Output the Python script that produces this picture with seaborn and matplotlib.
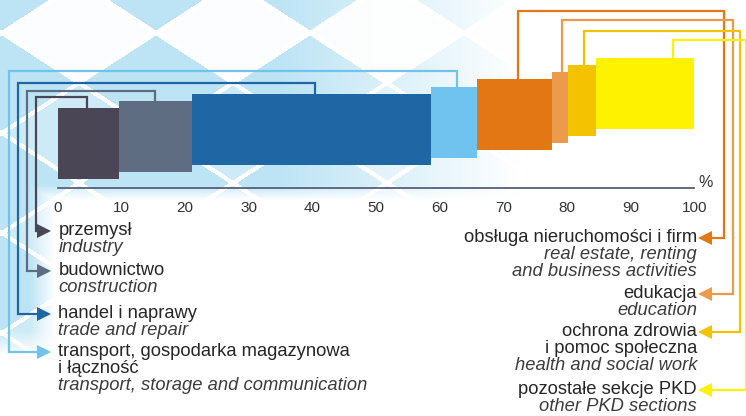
import numpy as np
import matplotlib
matplotlib.use("Agg")
import matplotlib.pyplot as plt
import seaborn as sns

# data (share of sectors, %)
sectors_pl = ["przemysł", "budownictwo", "handel i naprawy",
              "transport, gospodarka magazynowa\ni łączność",
              "obsługa nieruchomości i firm", "edukacja",
              "ochrona zdrowia\ni pomoc społeczna", "pozostałe sekcje PKD"]
sectors_en = ["industry", "construction", "trade and repair",
              "transport, storage and communication",
              "real estate, renting\nand business activities", "education",
              "health and social work", "other PKD sections"]
shares = [9.6, 11.5, 37.5, 7.2, 11.8, 2.6, 4.3, 15.5]
colors = ["#4a4656", "#5f6d83", "#1f66a5", "#6fc3ee",
          "#e37714", "#ec9a4b", "#f4c300", "#fff200"]
ticks = list(range(0, 101, 10))

sns.set_style("white")
plt.rcParams["font.family"] = ["Liberation Sans", "DejaVu Sans"]

W, H = 746, 416
X0, X100, AXY = 57.7, 694.3, 188.0
PX = (X100 - X0) / 100


def px2x(px):
    return (px - X0) / PX


def px2y(py):
    return AXY - py


fig = plt.figure(figsize=(W / 100, H / 100), dpi=100)

# background diamond pattern
bg = fig.add_axes([0, 0, 1, 1])
yy, xx = np.mgrid[0:H, 0:W] + 0.5
a, b, cx, cy = 77.0, 50.0, 233.0, 33.0
p = (xx - cx) / a + (yy - cy) / b
q = (xx - cx) / a - (yy - cy) / b
i = np.floor((p + 1) / 2)
j = np.floor((q + 1) / 2)
par = (i + j) % 2
row = i - j
fp = (p + 1) % 2
fq = (q + 1) % 2
edge = np.minimum(np.minimum(fp, 2 - fp), np.minimum(fq, 2 - fq))
shade = np.where(par == 1, 1.0, np.where(row == 0, 0.05, 0.75))
shade = np.where(edge < 0.05, 0.0, shade)
top = np.clip((520 - xx) / 240, 0, 1) * np.clip((200 - yy) / 15, 0, 1)
side = np.clip((55 - xx) / 25, 0, 1) * np.clip((355 - yy) / 25, 0, 1)
fade = np.maximum(top, side)
inten = (shade * fade)[..., None]
blue = np.array([189, 228, 245]) / 255
img = 1 - inten * (1 - blue)
bg.imshow(img, extent=(0, W, H, 0), aspect="auto", zorder=0)
bg.set_xlim(0, W)
bg.set_ylim(H, 0)
bg.axis("off")

ax = fig.add_axes([X0 / W, (H - AXY) / H, (X100 - X0) / W, AXY / H])
ax.set_facecolor("none")
ax.set_xlim(0, 100)
ax.set_ylim(0, AXY)

starts = np.concatenate([[0], np.cumsum(shares)[:-1]])
bottoms = [9 + 7.15 * i for i in range(len(shares))]
bar_h = 71
ax.bar(starts, bar_h, width=shares, bottom=bottoms, align="edge",
       color=colors, linewidth=0, zorder=3)

sns.despine(ax=ax, left=True, top=True, right=True)
ax.spines["bottom"].set_color("#56607a")
ax.spines["bottom"].set_linewidth(1.3)
ax.set_xticks(ticks)
ax.set_yticks([])
ax.tick_params(axis="x", direction="out", length=3.5, width=1.3,
               color="#56607a", pad=6, labelsize=11, labelcolor="#333333")
ax.text(px2x(706), px2y(183), "%", ha="center", va="center",
        fontsize=11.5, color="#333333", clip_on=False)

# connectors and labels
conn_x = [86.7, 155, 315, 457, 518, 562, 584, 673]
conn_top = [97, 91, 82.7, 70.7, 11, 20, 30.7, 40]
side_x = [35.7, 26.7, 17.7, 9.3, 723.5, 732.5, 739.5, 745.5]
arrow_y = [231, 271, 314, 352, 238, 294, 332, 390]
lw = 1.6
dy = 16.8
for k in range(len(shares)):
    c = colors[k]
    xb = px2x(conn_x[k])
    yb = bottoms[k] + bar_h
    left = k < 4
    tip = 48 if left else 701
    xs = [xb, xb, px2x(side_x[k]), px2x(side_x[k]), px2x(tip)]
    ys = [yb, px2y(conn_top[k]), px2y(conn_top[k]),
          px2y(arrow_y[k]), px2y(arrow_y[k])]
    ax.plot(xs, ys, color=c, lw=lw, clip_on=False, zorder=2,
            solid_joinstyle="miter")
    ax.plot(px2x(tip + (-4 if left else 4)), px2y(arrow_y[k]),
            marker=">" if left else "<", markersize=10, color=c,
            markeredgewidth=0, clip_on=False, zorder=2)
    lines = [(s, "normal", "#262626") for s in sectors_pl[k].split("\n")]
    lines += [(s, "italic", "#3c3c3c") for s in sectors_en[k].split("\n")]
    tx = px2x(58.5) if left else px2x(697)
    for n, (s, st, col) in enumerate(lines):
        ax.text(tx, px2y(arrow_y[k] + n * dy), s, ha="left" if left else "right",
                va="center", fontsize=13.2, style=st, color=col,
                clip_on=False)

fig.savefig("out.png", dpi=100)
